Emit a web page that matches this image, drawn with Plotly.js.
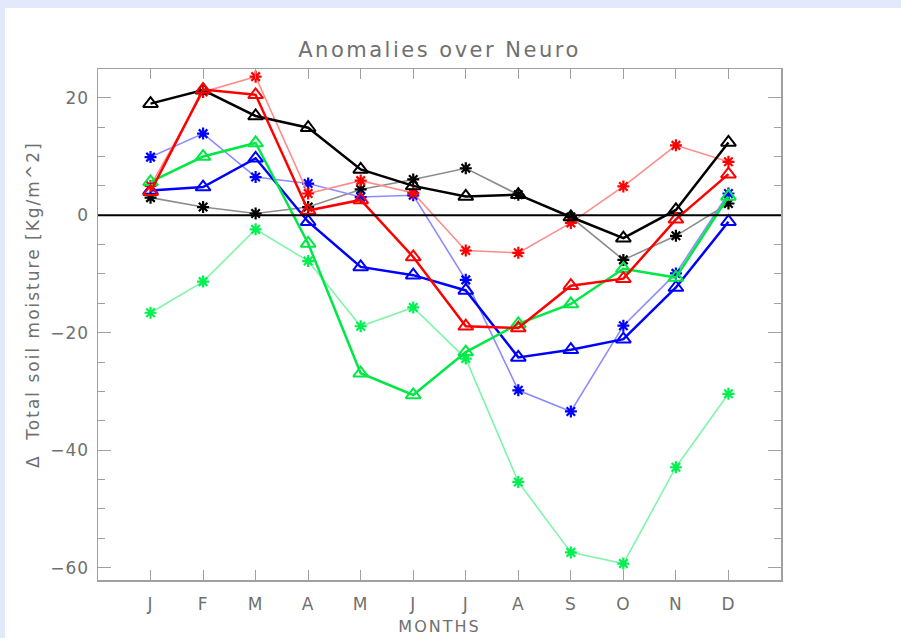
<!DOCTYPE html>
<html>
<head>
<meta charset="utf-8">
<script src="https://cdn.plot.ly/plotly-3.0.1.min.js"></script>
<style>
  html, body { margin:0; padding:0; background:#e3e9fb; width:901px; height:638px; overflow:hidden; }
  #chart { position:absolute; left:5px; top:8px; width:896px; height:630px; background:#ffffff; }
  #chart .gtitle { letter-spacing: 2.5px; }
  #chart .annotation-text { letter-spacing: 2px; }
  #chart .xtitle { letter-spacing: 2px; }
  #chart .ytick text, #chart .xtick text { letter-spacing: 1px; }
</style>
</head>
<body>
<div id="chart"></div>
<script>
const months = ['J','F','M','A','M','J','J','A','S','O','N','D'];
const monthIdx = [1,2,3,4,5,6,7,8,9,10,11,12];

const blackTri      = [19.0, 21.3, 16.9, 14.9, 7.8, 5.0, 3.2, 3.5, -0.3, -3.9, 0.9, 12.4];
const grayAst       = [3.0, 1.4, 0.3, 1.4, 4.4, 6.1, 8.0, 3.5, -0.3, -7.6, -3.5, 2.0];
const redTri        = [4.0, 21.4, 20.5, 0.8, 2.6, -7.1, -18.9, -19.2, -12.0, -10.8, -0.7, 7.0];
const lightRedAst   = [5.0, 21.0, 23.6, 3.7, 5.9, 3.8, -6.0, -6.4, -1.3, 4.9, 11.9, 9.1];
const blueTri       = [4.2, 4.8, 9.7, -1.1, -8.8, -10.2, -12.8, -24.2, -22.9, -21.1, -12.3, -1.1];
const lightBlueAst  = [9.9, 13.9, 6.5, 5.4, 3.1, 3.4, -11.0, -29.8, -33.4, -18.8, -9.9, 3.7];
const greenTri      = [5.7, 10.0, 12.3, -4.8, -26.9, -30.6, -23.3, -18.5, -15.1, -9.1, -10.6, 3.2];
const lightGreenAst = [-16.6, -11.3, -2.4, -7.8, -18.9, -15.7, -24.4, -45.4, -57.4, -59.3, -42.9, -30.4];

function tri(y, color) {
  return { x: monthIdx, y: y, mode: 'lines+markers', type: 'scatter',
    line: { color: color, width: 2.5 },
    marker: { symbol: 'triangle-up-open', size: 13, color: color, line: { color: color, width: 2 } } };
}
function ast(y, lineColor, markColor) {
  return { x: monthIdx, y: y, mode: 'lines+markers', type: 'scatter',
    line: { color: lineColor, width: 1.6 },
    marker: { symbol: 'asterisk-open', size: 10, color: markColor, line: { color: markColor, width: 2.2 } } };
}

const traces = [
  ast(grayAst, '#8c8c8c', '#000000'),
  ast(lightBlueAst, '#8c8cff', '#0000ff'),
  ast(lightGreenAst, '#80f5aa', '#00f050'),
  ast(lightRedAst, '#ff8c8c', '#ff0000'),
  tri(blackTri, '#000000'),
  tri(blueTri, '#0000ff'),
  tri(greenTri, '#00e845'),
  tri(redTri, '#ff0000')
];

const fam = 'DejaVu Sans, sans-serif';
const tickFnt = { family: fam, color: '#707070', size: 17 };

const layout = {
  width: 896, height: 630,
  paper_bgcolor: '#ffffff', plot_bgcolor: '#ffffff',
  margin: { l: 93, r: 120, t: 61, b: 58 },
  showlegend: false,
  font: tickFnt,
  title: { text: 'Anomalies over Neuro', font: { family: fam, size: 21, color: '#707070' },
           x: 0.5, xref: 'paper', xanchor: 'center', y: 0.934, yref: 'container', yanchor: 'middle' },
  xaxis: {
    range: [0, 13], tickvals: monthIdx, ticktext: months,
    ticks: 'inside', ticklen: 10, tickcolor: '#a0a0a0', tickwidth: 1,
    showline: true, linecolor: '#a0a0a0', linewidth: 1.5, mirror: 'ticks',
    showgrid: false, zeroline: false, ticklabelstandoff: 8,
    tickfont: tickFnt,
    title: { text: 'MONTHS', font: { family: fam, size: 16, color: '#707070' }, standoff: 8 }
  },
  yaxis: {
    range: [-62.1, 24.9], tickvals: [-60, -40, -20, 0, 20],
    ticktext: ['\u221260', '\u221240', '\u221220', '0', '20'],
    ticks: 'inside', ticklen: 13, tickcolor: '#a0a0a0', tickwidth: 1,
    minor: { dtick: 5, ticks: 'inside', ticklen: 7, tickcolor: '#a0a0a0', showgrid: false },
    showline: true, linecolor: '#a0a0a0', linewidth: 1.5, mirror: 'ticks',
    showgrid: false, zeroline: false, ticklabelstandoff: 4,
    tickfont: tickFnt
  },
  annotations: [
    { text: '\u0394  Total soil moisture [Kg/m^2]', textangle: -90, showarrow: false,
      xref: 'paper', yref: 'paper', x: 0, y: 0.538, xanchor: 'center', yanchor: 'middle',
      xshift: -65, font: { family: fam, size: 17, color: '#707070' } }
  ],
  shapes: [
    { type: 'line', xref: 'paper', x0: 0, x1: 1, yref: 'y', y0: 0, y1: 0,
      line: { color: '#000000', width: 2 }, layer: 'above' }
  ]
};

Plotly.newPlot('chart', traces, layout, { displayModeBar: false, staticPlot: true });
</script>
</body>
</html>
